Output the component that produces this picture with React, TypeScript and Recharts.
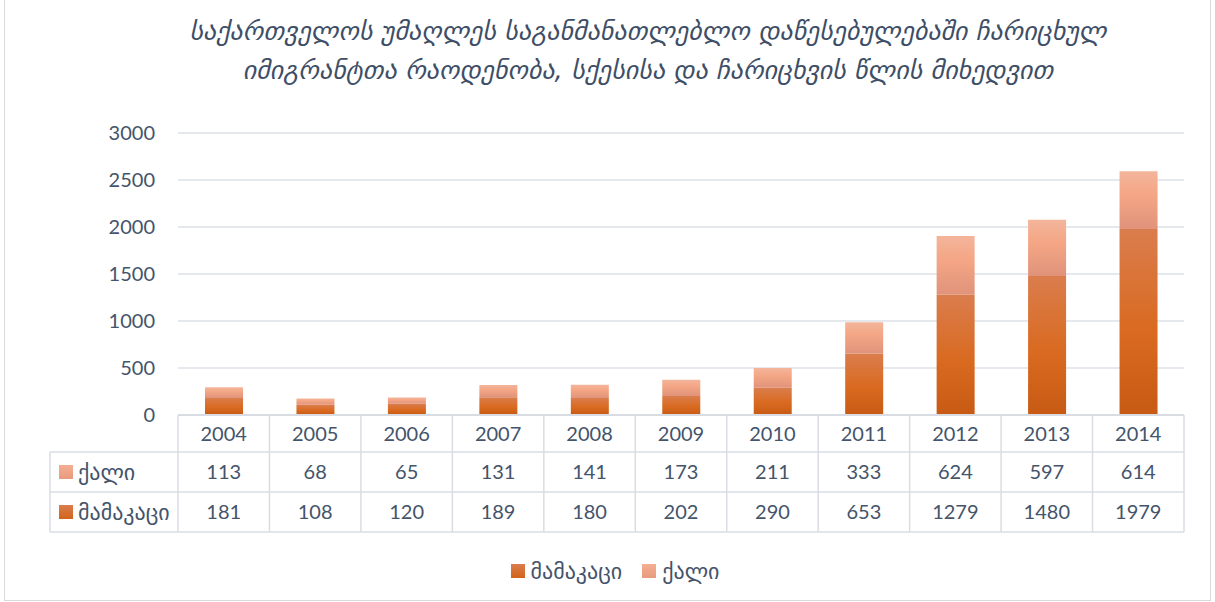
import { BarChart, Bar, XAxis, YAxis, CartesianGrid } from 'recharts';

const years = ['2004', '2005', '2006', '2007', '2008', '2009', '2010', '2011', '2012', '2013', '2014'];
const female = [113, 68, 65, 131, 141, 173, 211, 333, 624, 597, 614];
const male = [181, 108, 120, 189, 180, 202, 290, 653, 1279, 1480, 1979];
const yTicks = [0, 500, 1000, 1500, 2000, 2500, 3000];

const maleName = 'მამაკაცი';
const femaleName = 'ქალი';
const title1 = 'საქართველოს უმაღლეს საგანმანათლებლო დაწესებულებაში ჩარიცხულ';
const title2 = 'იმიგრანტთა რაოდენობა, სქესისა და ჩარიცხვის წლის მიხედვით';

const data = years.map((year, i) => ({ year, male: male[i], female: female[i] }));

const W = 1215;
const H = 602;
const PLOT_LEFT = 178;
const PLOT_RIGHT = 1184;
const PLOT_BOTTOM = 415;
const ROW1 = 452;
const ROW2 = 492;
const ROW3 = 532;
const TABLE_LEFT = 50;
const CELL = (PLOT_RIGHT - PLOT_LEFT) / years.length;

const TEXT = '#44546A';
const LINE = '#D9DDE3';
const FONT = "Lato, 'DejaVu Sans', sans-serif";

const TableTick = (props: any) => {
  const { x, payload } = props;
  const i = payload.index as number;
  const left = x - CELL / 2;
  return (
    <g>
      <line x1={left} y1={PLOT_BOTTOM} x2={left} y2={ROW3} stroke={LINE} strokeWidth={1.5} />
      {i === years.length - 1 && (
        <line x1={left + CELL} y1={PLOT_BOTTOM} x2={left + CELL} y2={ROW3} stroke={LINE} strokeWidth={1.5} />
      )}
      {i === 0 && (
        <g>
          <line x1={PLOT_LEFT} y1={PLOT_BOTTOM} x2={PLOT_RIGHT} y2={PLOT_BOTTOM} stroke={LINE} strokeWidth={2} />
          <line x1={TABLE_LEFT} y1={ROW1} x2={PLOT_RIGHT} y2={ROW1} stroke={LINE} strokeWidth={1.5} />
          <line x1={TABLE_LEFT} y1={ROW2} x2={PLOT_RIGHT} y2={ROW2} stroke={LINE} strokeWidth={1.5} />
          <line x1={TABLE_LEFT} y1={ROW3} x2={PLOT_RIGHT} y2={ROW3} stroke={LINE} strokeWidth={1.5} />
          <line x1={TABLE_LEFT} y1={ROW1} x2={TABLE_LEFT} y2={ROW3} stroke={LINE} strokeWidth={1.5} />
          <rect x={59} y={465} width={14} height={14} fill="url(#femaleKey)" />
          <text x={78} y={472} dy="0.35em" fill={TEXT} fontSize={22} fontFamily={FONT}>{femaleName}</text>
          <rect x={59} y={505} width={14} height={14} fill="url(#maleKey)" />
          <text x={78} y={512} dy="0.35em" fill={TEXT} fontSize={22} fontFamily={FONT}>{maleName}</text>
        </g>
      )}
      <text x={x} y={434} dy="0.35em" textAnchor="middle" fill={TEXT} fontSize={20} fontFamily={FONT}>
        {years[i]}
      </text>
      <text x={x} y={472} dy="0.35em" textAnchor="middle" fill={TEXT} fontSize={20} fontFamily={FONT}>
        {female[i]}
      </text>
      <text x={x} y={512} dy="0.35em" textAnchor="middle" fill={TEXT} fontSize={20} fontFamily={FONT}>
        {male[i]}
      </text>
    </g>
  );
};

const YTick = (props: any) => {
  const { y, payload } = props;
  return (
    <text x={155} y={y} dy="0.35em" textAnchor="end" fill={TEXT} fontSize={20} fontFamily={FONT}>
      {payload.value}
    </text>
  );
};

export default function App() {
  return (
    <div style={{ position: 'absolute', left: 0, top: 0, width: W, height: H, background: '#fff', overflow: 'hidden' }}>
      <div
        style={{
          position: 'absolute',
          left: 4,
          top: -1,
          width: W - 8,
          height: H,
          border: '1px solid #D9D9D9',
          boxSizing: 'border-box',
        }}
      />
      <div
        style={{
          position: 'absolute',
          left: 0,
          top: 12,
          width: 1296,
          textAlign: 'center',
          fontFamily: "'DejaVu Sans', sans-serif",
          fontStyle: 'italic',
          fontSize: 26,
          lineHeight: '39px',
          color: '#3E4E66',
        }}
      >
        <div>{title1}</div>
        <div>{title2}</div>
      </div>
      <div style={{ position: 'absolute', left: 0, top: 0 }}>
        <BarChart width={W} height={H} data={data} margin={{ top: 133, right: W - PLOT_RIGHT, left: 0, bottom: H - ROW3 }}>
          <defs>
            <linearGradient id="maleFill" x1="0" y1="0" x2="0" y2="1">
              <stop offset="0%" stopColor="#DA7D4D" />
              <stop offset="55%" stopColor="#D96A20" />
              <stop offset="100%" stopColor="#C75A14" />
            </linearGradient>
            <linearGradient id="femaleFill" x1="0" y1="0" x2="0" y2="1">
              <stop offset="0%" stopColor="#F3B59B" />
              <stop offset="40%" stopColor="#F4A685" />
              <stop offset="100%" stopColor="#E0937A" />
            </linearGradient>
            <linearGradient id="maleKey" x1="0" y1="0" x2="0" y2="1">
              <stop offset="0%" stopColor="#DA7D4D" />
              <stop offset="100%" stopColor="#D2641A" />
            </linearGradient>
            <linearGradient id="femaleKey" x1="0" y1="0" x2="0" y2="1">
              <stop offset="0%" stopColor="#F5AE92" />
              <stop offset="100%" stopColor="#E89A7E" />
            </linearGradient>
          </defs>
          <CartesianGrid vertical={false} stroke="#DDE1E6" strokeWidth={1.5} />
          <XAxis
            dataKey="year"
            height={ROW3 - PLOT_BOTTOM}
            axisLine={false}
            tickLine={false}
            interval={0}
            tick={<TableTick />}
          />
          <YAxis
            width={PLOT_LEFT}
            domain={[0, 3000]}
            ticks={yTicks}
            axisLine={false}
            tickLine={false}
            tick={<YTick />}
          />
          <Bar dataKey="male" name={maleName} stackId="a" fill="url(#maleFill)" barSize={38} isAnimationActive={false} />
          <Bar dataKey="female" name={femaleName} stackId="a" fill="url(#femaleFill)" barSize={38} isAnimationActive={false} />
        </BarChart>
      </div>
      <div
        style={{
          position: 'absolute',
          left: 0,
          top: 557,
          width: 1230,
          display: 'flex',
          justifyContent: 'center',
          alignItems: 'center',
          fontFamily: FONT,
          fontSize: 22,
          color: TEXT,
        }}
      >
        {[
          { name: maleName, fill: 'linear-gradient(#DA7D4D, #D2641A)' },
          { name: femaleName, fill: 'linear-gradient(#F5AE92, #E89A7E)' },
        ].map((s) => (
          <div key={s.name} style={{ display: 'flex', alignItems: 'center', margin: '0 10px' }}>
            <span style={{ display: 'inline-block', width: 14, height: 14, background: s.fill, marginRight: 6 }} />
            <span>{s.name}</span>
          </div>
        ))}
      </div>
    </div>
  );
}
